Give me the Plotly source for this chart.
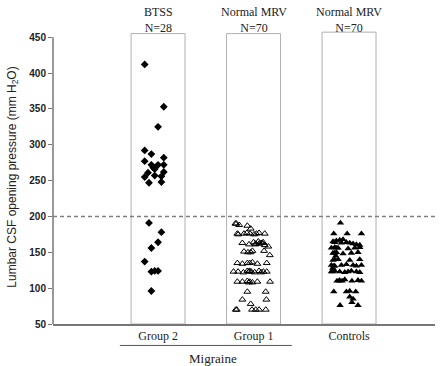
import plotly.graph_objects as go

# ---------------- data ----------------
categories = ["Group 2", "Group 1", "Controls"]
cat_pos = [1, 2, 3]
top_labels = ["BTSS<br>N=28", "Normal MRV<br>N=70", "Normal MRV<br>N=70"]
box_tops = [455, 455, 457]
threshold = 200
y_ticks = [50, 100, 150, 200, 250, 300, 350, 400, 450]

btss_values = [412, 353, 325, 292, 287, 277, 282, 272, 272, 272, 266, 261, 255, 257,
               256, 262, 247, 248, 191, 178, 164, 156, 137, 123, 124, 124, 96, 268]
btss_jitter = [-0.14, 0.06, 0.0, -0.14, -0.07, -0.14, 0.06, -0.07, 0.0, 0.06, -0.035, -0.105,
               -0.14, -0.035, 0.035, 0.06, -0.095, 0.035, -0.095, 0.035, 0.0, -0.07, -0.14,
               -0.07, -0.035, 0.0, -0.07, -0.05]

group1_values = [190, 188, 187, 183, 190,
                 176, 175, 177, 176, 175, 177, 176,
                 163, 161, 164, 162, 165, 163, 160, 158,
                 151, 150, 152, 152, 146,
                 135, 134, 135, 136, 134, 135,
                 123, 123, 122, 124, 123, 122, 124, 123, 123,
                 109, 109, 110, 108, 109, 109,
                 95, 95,
                 84, 78, 84,
                 70, 70, 70, 70, 70, 70,
                 176, 163, 162, 124, 123, 135, 150, 109, 164, 122, 176, 161, 108]
group1_jitter = [-0.19, -0.15, -0.065, -0.03, -0.18,
                 -0.17, -0.16, -0.07, -0.037, 0.005, 0.058, 0.117,
                 -0.117, -0.047, 0.0, 0.023, 0.05, 0.08, 0.117, 0.155,
                 -0.1, -0.058, -0.012, 0.11, 0.17,
                 -0.17, -0.117, -0.065, -0.012, 0.04, 0.138,
                 -0.21, -0.162, -0.106, -0.065, -0.023, 0.012, 0.058, 0.103, 0.138,
                 -0.17, -0.117, -0.065, -0.012, 0.04, 0.173,
                 -0.065, 0.127,
                 -0.117, -0.03, 0.134,
                 -0.186, -0.176, -0.016, 0.023, 0.058, 0.128,
                 0.03, 0.09, 0.06, -0.04, -0.05, -0.04, -0.03, -0.04, 0.1, 0.08, -0.1, 0.02, -0.05]

control_values = [191,
                  176, 176, 176,
                  165, 166, 167, 168, 164, 163, 162, 161, 160,
                  156, 157, 156, 155, 156, 157,
                  149, 150, 148, 149, 150,
                  139, 140, 139, 140,
                  132, 131, 132, 133, 132, 131, 132,
                  123, 124, 123, 122, 123, 124, 123, 122,
                  110, 111, 110, 112, 110, 111, 110,
                  95, 95, 96, 95,
                  88, 85,
                  76, 80, 76,
                  164, 163, 156, 149, 140, 131, 123, 110, 145, 128]
control_jitter = [-0.09,
                  -0.16, -0.02, 0.13,
                  -0.168, -0.133, -0.098, -0.063, -0.028, 0.007, 0.042, 0.077, 0.112,
                  -0.185, -0.15, -0.115, -0.01, 0.06, 0.112,
                  -0.168, -0.133, -0.063, 0.024, 0.094,
                  -0.168, -0.115, 0.007, 0.112,
                  -0.185, -0.15, -0.08, -0.028, 0.042, 0.077, 0.13,
                  -0.185, -0.15, -0.098, -0.045, -0.01, 0.024, 0.077, 0.112,
                  -0.126, -0.1, -0.073, -0.045, 0.03, 0.094, 0.13,
                  -0.16, -0.028, 0.007, 0.07,
                  0.007, 0.042,
                  -0.094, 0.03, 0.094,
                  -0.15, -0.08, -0.13, -0.15, -0.15, -0.16, -0.17, -0.1, -0.14, -0.17]

# ---------------- figure ----------------
fig = go.Figure()

# open boxes behind each group
fig.add_trace(go.Bar(
    x=cat_pos, y=[t - y_ticks[0] for t in box_tops], base=y_ticks[0],
    width=0.565, marker=dict(color="rgba(0,0,0,0)", line=dict(color="#b0b0b0", width=1)),
    hoverinfo="skip", showlegend=False))

fig.add_trace(go.Scatter(
    x=[cat_pos[0] + j for j in btss_jitter], y=btss_values, mode="markers",
    marker=dict(symbol="diamond", size=6, color="black"), showlegend=False))

fig.add_trace(go.Scatter(
    x=[cat_pos[1] + j for j in group1_jitter], y=group1_values, mode="markers",
    marker=dict(symbol="triangle-up-open", size=6, color="black", line=dict(width=1)),
    showlegend=False))

fig.add_trace(go.Scatter(
    x=[cat_pos[2] + j for j in control_jitter], y=control_values, mode="markers",
    marker=dict(symbol="triangle-up", size=6.5, color="black"), showlegend=False))

# threshold line
fig.add_shape(type="line", xref="paper", x0=0, x1=1, yref="y", y0=threshold, y1=threshold,
              line=dict(color="#808080", width=1.5, dash="4px,3px"))
# y axis line (50..450)
fig.add_shape(type="line", xref="paper", x0=0, x1=0, yref="y", y0=y_ticks[0], y1=y_ticks[-1],
              line=dict(color="#777777", width=1.5))

# top labels
for xp, lab in zip(cat_pos, top_labels):
    fig.add_annotation(x=xp, xref="x", y=1.035, yref="paper", text=lab, showarrow=False,
                       font=dict(family="Liberation Serif", size=12, color="#222"),
                       yanchor="middle", xanchor="center")

# Migraine bracket
fig.add_shape(type="line", xref="x", x0=0.6, x1=2.4, yref="paper", y0=-0.073, y1=-0.073,
              line=dict(color="#555", width=1))
fig.add_annotation(x=1.58, xref="x", y=-0.116, yref="paper", text="Migraine", showarrow=False,
                   font=dict(family="Liberation Serif", size=13, color="#222"),
                   yanchor="middle", xanchor="center")

fig.update_layout(
    width=440, height=366,
    margin=dict(l=53, r=5, t=30, b=42, autoexpand=False),
    plot_bgcolor="white", paper_bgcolor="white",
    showlegend=False,
    xaxis=dict(range=[-0.1, 3.9], tickvals=cat_pos, ticktext=categories, automargin=False,
               showline=True, linecolor="#777777", linewidth=1.5, showgrid=False,
               zeroline=False, ticks="",
               tickfont=dict(family="Liberation Serif", size=12, color="#222")),
    yaxis=dict(range=[50, 460], tickvals=y_ticks, showline=False, showgrid=False,
               zeroline=False, ticks="outside", ticklen=4, tickcolor="#777", tickwidth=1,
               automargin=False,
               tickfont=dict(family="Liberation Sans", size=10, color="#222", weight="bold"),
               title=dict(text="Lumbar CSF opening pressure (mm H<sub>2</sub>O)",
                          font=dict(family="Liberation Sans", size=12, color="#222"),
                          standoff=10)),
)

fig.write_html("out.html", config={"displayModeBar": False},
               post_script="document.body.style.margin='0';")
